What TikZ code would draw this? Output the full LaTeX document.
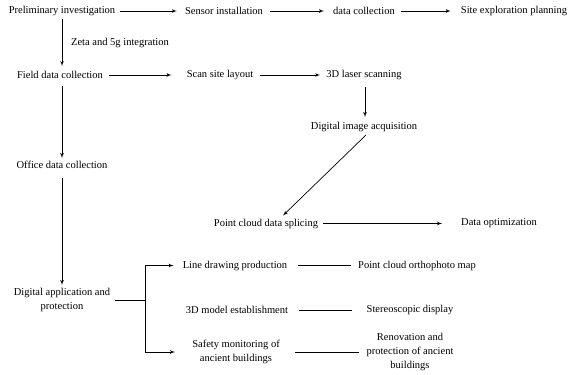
\documentclass[tikz,border=0pt]{standalone}
\usepackage{fontspec}
\setmainfont{Liberation Serif}
\usepackage{tikz}
\usetikzlibrary{arrows}
\usetikzlibrary{calc}

\begin{document}
\begin{tikzpicture}[x=1pt, y=-1pt]
        \tikzset{stage/.style = {shape=rectangle, inner sep=3pt, align=center, font=\fontsize{10.5}{14}\selectfont}}
        \tikzset{edge/.style = {-,> = latex', line width=0.7pt}}
        \useasboundingbox (0,0) rectangle (568,375);
        \node[stage] (1) at (62, 11) {Preliminary investigation};
        \node[stage] (2) at (224, 11) {Sensor installation};
        \node[stage] (3) at (364, 11) {data collection};
        \node[stage] (4) at (514, 11) {Site exploration planning};
        \node[stage] (5) at (120, 43) {Zeta and 5g integration};
        \node[stage] (6) at (60, 75) {Field data collection};
        \node[stage] (7) at (220, 75) {Scan site layout};
        \node[stage] (8) at (364, 75) {3D laser scanning};
        \node[stage] (9) at (364, 127) {Digital image acquisition};
        \node[stage] (10) at (266, 223.5) {Point cloud data splicing};
        \node[stage] (11) at (499, 223.5) {Data optimization};
        \node[stage] (12) at (62, 165) {Office data collection};
        \node[stage] (13) at (62, 300) {Digital application and\\protection};
        \node[stage] (14) at (235, 265.5) {Line drawing production};
        \node[stage] (15) at (417, 265.5) {Point cloud orthophoto map};
        \node[stage] (16) at (237, 310) {3D model establishment};
        \node[stage] (17) at (410, 310) {Stereoscopic display};
        \node[stage] (18) at (236, 352) {Safety monitoring of\\ancient buildings};
        \node[stage] (19) at (410, 352) {Renovation and\\protection of ancient\\buildings};
        \coordinate (fork) at (145, 300);

        \draw[edge,->,shorten <=2pt,shorten >=5pt] (1) to (2);
        \draw[edge,->,shorten <=4pt,shorten >=6pt] (2) to (3);
        \draw[edge,->,shorten <=3pt,shorten >=7pt] (3) to (4);
        \draw[edge,->,shorten >=2pt] (1.south) to (1.south |- 6.north);
        \draw[edge,->,shorten <=3pt,shorten >=12pt] (6) to (7);
        \draw[edge,->,shorten <=4pt,shorten >=3pt] (7) to (8);
        \draw[edge,->,shorten <=4pt,shorten >=2pt] ([xshift=1pt]8.south) to ([xshift=1pt]9.north);
        \draw[edge,->] ([xshift=2pt]9.south) to ([xshift=17pt]10.north);
        \draw[edge,->,shorten <=2pt,shorten >=16pt] (10) to (11);
        \draw[edge,->,shorten <=4pt] (6.south -| 1.south) to (12.north -| 1.south);
        \draw[edge,->,shorten <=6pt] (12.south -| 1.south) to (13.north -| 1.south);
        \draw[edge,shorten <=2pt] (13.east |- fork) to (fork);
        \draw[edge,->,shorten >=6pt] (fork) |- (14);
        \draw[edge,->,shorten >=14pt] (fork) |- (18);
        \draw[edge,shorten <=8pt,shorten >=4pt] (14) to (15);
        \draw[edge,shorten <=8pt,shorten >=12pt] (16) to (17);
        \draw[edge,shorten <=12pt,shorten >=4pt] (18) to (19);
      \end{tikzpicture}
\end{document}
